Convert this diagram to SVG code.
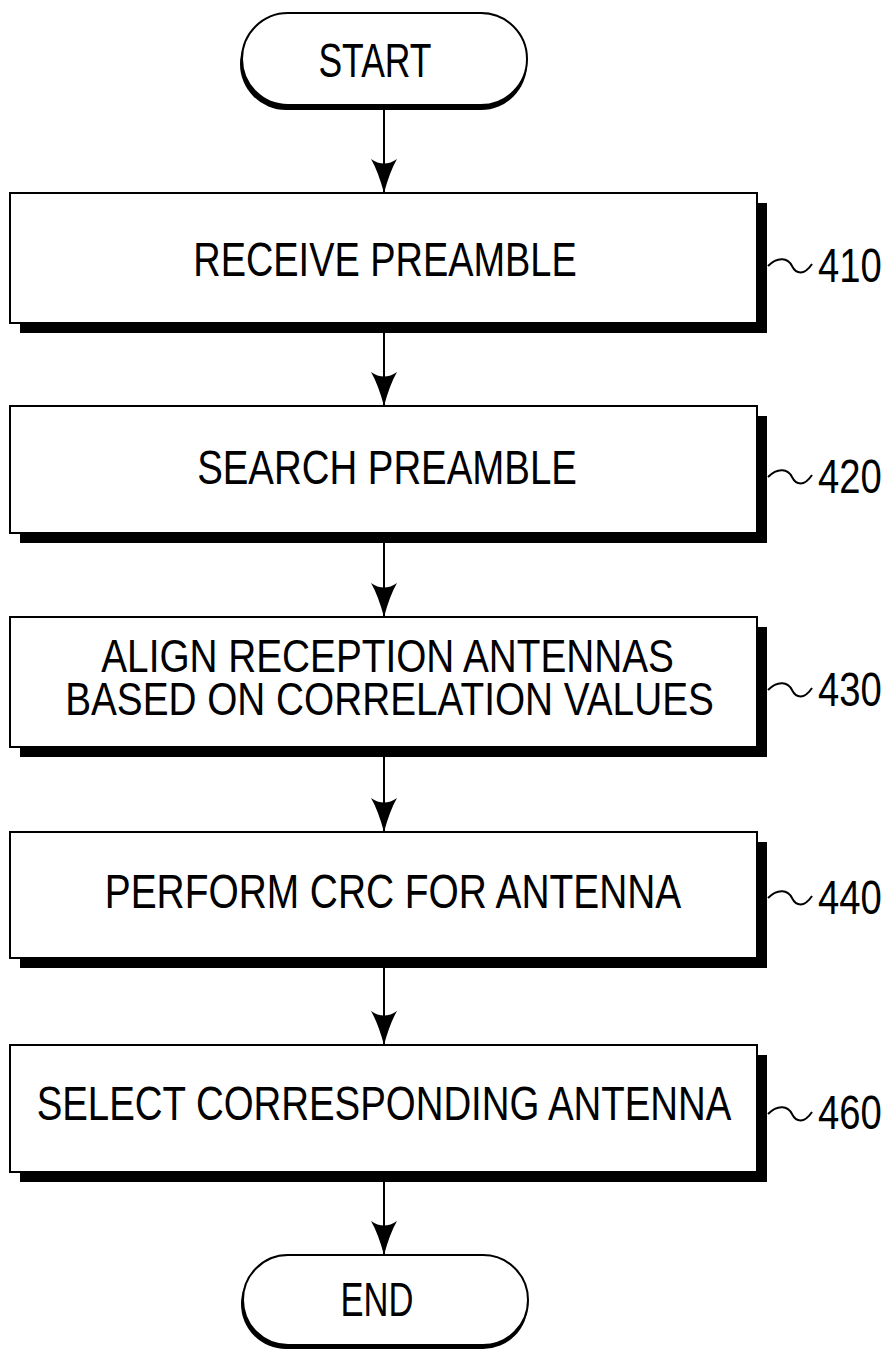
<svg xmlns="http://www.w3.org/2000/svg" width="896" height="1351" viewBox="0 0 896 1351">
<style>
.box{fill:#fff;stroke:#000;stroke-width:2}
.sh{fill:#000}
.t{font-family:"Liberation Sans",Arial,sans-serif;font-size:48px;fill:#000;text-anchor:middle}
.t2{font-family:"Liberation Sans",Arial,sans-serif;font-size:46px;fill:#000;text-anchor:middle}
.lbl{font-family:"Liberation Sans",Arial,sans-serif;font-size:49px;fill:#000}
.conn{stroke:#000;stroke-width:2;fill:none}
.tl{stroke:#000;stroke-width:2;fill:none}
</style>
<defs>
<marker id="ah" markerWidth="34" markerHeight="26" refX="34" refY="13" orient="auto" markerUnits="userSpaceOnUse" viewBox="0 0 34 26">
<path d="M0,0 Q12,7 34,13 Q12,19 0,26 Q9,13 0,0 Z" fill="#000"/>
</marker>
</defs>
<rect width="896" height="1351" fill="#fff"/>
<g id="connectors">
<line class="conn" x1="384" y1="110" x2="384" y2="193" marker-end="url(#ah)"/>
<line class="conn" x1="384" y1="333" x2="384" y2="406" marker-end="url(#ah)"/>
<line class="conn" x1="384" y1="543" x2="384" y2="617" marker-end="url(#ah)"/>
<line class="conn" x1="384" y1="757" x2="384" y2="832" marker-end="url(#ah)"/>
<line class="conn" x1="384" y1="968" x2="384" y2="1045" marker-end="url(#ah)"/>
<line class="conn" x1="384" y1="1182" x2="384" y2="1255" marker-end="url(#ah)"/>
</g>
<g id="start">
<rect class="sh" x="240" y="18" width="287" height="92" rx="46"/>
<rect class="box" x="242" y="13" width="285" height="92" rx="46"/>
<text class="t" transform="translate(375,77) scale(0.74,1)">START</text>
</g>
<g id="n410">
<rect class="sh" x="20" y="203" width="747" height="130"/>
<rect class="box" x="10" y="193" width="747" height="130"/>
<text class="t" transform="translate(385,276) scale(0.79,1)">RECEIVE PREAMBLE</text>
<path class="tl" d="M768,266 C778,256 788,258 792,266 S804,276 812,264"/>
<text class="lbl" transform="translate(818,282) scale(0.78,1)">410</text>
</g>
<g id="n420">
<rect class="sh" x="20" y="416" width="747" height="127"/>
<rect class="box" x="10" y="406" width="747" height="127"/>
<text class="t" transform="translate(387,484) scale(0.8,1)">SEARCH PREAMBLE</text>
<path class="tl" d="M768,477 C778,467 788,469 792,477 S804,487 812,475"/>
<text class="lbl" transform="translate(818,493) scale(0.78,1)">420</text>
</g>
<g id="n430">
<rect class="sh" x="20" y="627" width="747" height="130"/>
<rect class="box" x="10" y="617" width="747" height="130"/>
<text class="t2" transform="scale(0.8425,1)"><tspan x="460" y="672">ALIGN RECEPTION ANTENNAS</tspan><tspan x="462.3" y="715">BASED ON CORRELATION VALUES</tspan></text>
<path class="tl" d="M768,690 C778,680 788,682 792,690 S804,700 812,688"/>
<text class="lbl" transform="translate(818,706) scale(0.78,1)">430</text>
</g>
<g id="n440">
<rect class="sh" x="20" y="842" width="747" height="126"/>
<rect class="box" x="10" y="832" width="747" height="126"/>
<text class="t" transform="translate(393,908) scale(0.81,1)">PERFORM CRC FOR ANTENNA</text>
<path class="tl" d="M768,898 C778,888 788,890 792,898 S804,908 812,896"/>
<text class="lbl" transform="translate(818,914) scale(0.78,1)">440</text>
</g>
<g id="n460">
<rect class="sh" x="20" y="1055" width="747" height="127"/>
<rect class="box" x="10" y="1045" width="747" height="127"/>
<text class="t" transform="translate(384,1120) scale(0.8,1)">SELECT CORRESPONDING ANTENNA</text>
<path class="tl" d="M768,1114 C778,1104 788,1106 792,1114 S804,1124 812,1112"/>
<text class="lbl" transform="translate(818,1129) scale(0.78,1)">460</text>
</g>
<g id="end">
<rect class="sh" x="241" y="1259" width="287" height="90" rx="45"/>
<rect class="box" x="243" y="1255" width="285" height="90" rx="45"/>
<text class="t" transform="translate(377,1316) scale(0.72,1)">END</text>
</g>
</svg>
